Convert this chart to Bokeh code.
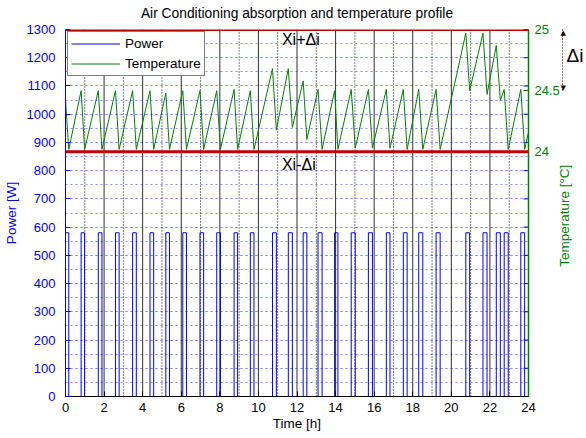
import math
from bokeh.plotting import figure
from bokeh.models import (Range1d, LinearAxis, FixedTicker, SingleIntervalTicker, Span,
                          Label, CustomJSTickFormatter)
from bokeh.embed import file_html
from bokeh.resources import INLINE

# ---------------- data ----------------
title_text = "Air Conditioning absorption and temperature profile"

# AC power pulses [h]
pulse_start = [0.00, 0.81, 1.70, 2.59, 3.48, 4.38, 5.20, 6.08, 6.97, 7.84,
               8.74, 9.58, 10.73, 11.55, 12.32, 13.09, 13.95, 14.81, 15.70, 16.63,
               17.51, 18.31, 19.21, 20.75, 21.64, 22.33, 22.74, 23.60]
pulse_end = [0.17, 0.99, 1.89, 2.78, 3.67, 4.57, 5.39, 6.27, 7.16, 8.03,
             8.92, 9.77, 10.93, 11.76, 12.51, 13.30, 14.12, 15.02, 15.91, 16.82,
             17.71, 18.52, 19.42, 20.95, 21.85, 22.54, 22.95, 23.80]
pulse_power = 580  # W

# temperature profile [h], [degC]
temp_time = [0.00, 0.17, 0.81, 0.99, 1.70, 1.89, 2.59, 2.78, 3.48, 3.67,
             4.38, 4.57, 5.20, 5.39, 6.08, 6.27, 6.97, 7.16, 7.84, 8.03,
             8.74, 8.92, 9.58, 9.77, 10.73, 10.93, 11.55, 11.76, 12.32, 12.51,
             13.09, 13.30, 13.95, 14.12, 14.81, 15.02, 15.70, 15.91, 16.63, 16.82,
             17.51, 17.71, 18.31, 18.52, 19.21, 19.42, 20.75, 20.95, 21.64, 21.85,
             22.33, 22.54, 22.74, 22.95, 23.60, 23.80, 24.00]
temp_value = [24.42, 24.02, 24.50, 24.02, 24.50, 24.02, 24.50, 24.02, 24.50, 24.02,
              24.50, 24.02, 24.48, 24.02, 24.50, 24.02, 24.50, 24.02, 24.50, 24.02,
              24.51, 24.02, 24.50, 24.02, 24.68, 24.18, 24.68, 24.20, 24.58, 24.10,
              24.51, 24.02, 24.50, 24.02, 24.51, 24.03, 24.51, 24.03, 24.51, 24.03,
              24.51, 24.02, 24.51, 24.02, 24.51, 24.02, 24.97, 24.50, 24.97, 24.47,
              24.87, 24.42, 24.51, 24.02, 24.51, 24.02, 24.16]

x_ticks = [0, 2, 4, 6, 8, 10, 12, 14, 16, 18, 20, 22, 24]
power_ticks = [0, 100, 200, 300, 400, 500, 600, 700, 800, 900, 1000, 1100, 1200, 1300]
temp_ticks = [24, 24.5, 25]
temp_axis_range = [22, 25]
band_center = 24.5
band_delta = 0.5
solid_hours = [2, 4, 6, 8, 10, 12, 14, 16, 18, 20, 22]
dotted_hours = [1, 3, 5, 7, 9, 11, 13, 15, 17, 19, 21, 23]

# ---------------- build step line ----------------
pw_x, pw_y = [x_ticks[0]], [0]
for s, e in zip(pulse_start, pulse_end):
    pw_x += [s, s, e, e]
    pw_y += [0, pulse_power, pulse_power, 0]
pw_x.append(x_ticks[-1])
pw_y.append(0)

FONT = "Liberation Sans"
BLUE = "#0000ff"
GREEN = "#008000"
RED = "#c00000"

p = figure(width=586, height=438, x_range=Range1d(x_ticks[0], x_ticks[-1]),
           y_range=Range1d(power_ticks[0], power_ticks[-1]),
           output_backend="svg", toolbar_location=None,
           min_border_left=65, min_border_right=55, min_border_top=29, min_border_bottom=42,
           background_fill_color="white", border_fill_color="white", outline_line_color=None)
p.extra_y_ranges = {"temp": Range1d(*temp_axis_range)}

# bottom (time) axis
xa = p.below[0]
xa.ticker = FixedTicker(ticks=x_ticks)
xa.axis_label = "Time [h]"
xa.axis_line_color = "#000000"
xa.major_tick_line_color = "#000000"
xa.major_tick_in = 5
xa.major_tick_out = 0
xa.minor_tick_line_color = None
xa.major_label_standoff = 6
xa.axis_label_standoff = 1
xa.major_label_text_font = FONT
xa.major_label_text_font_size = "13px"
xa.major_label_text_color = "#000000"
xa.axis_label_text_font = FONT
xa.axis_label_text_font_size = "13.5px"
xa.axis_label_text_font_style = "normal"
xa.axis_label_text_color = "#000000"

# left axis
ya = p.left[0]
ya.ticker = SingleIntervalTicker(interval=100, num_minor_ticks=2)
ya.axis_label = "Power [W]"
ya.axis_line_color = BLUE
ya.major_tick_line_color = BLUE
ya.major_tick_in = 5
ya.major_tick_out = 0
ya.minor_tick_line_color = None
ya.major_label_standoff = 6
ya.axis_label_standoff = 5
ya.major_label_text_font = FONT
ya.major_label_text_font_size = "13px"
ya.major_label_text_color = BLUE
ya.axis_label_text_font = FONT
ya.axis_label_text_font_size = "13.5px"
ya.axis_label_text_font_style = "normal"
ya.axis_label_text_color = BLUE

# title (drawn as the label of a bare top axis)
ta = LinearAxis(ticker=FixedTicker(ticks=[]), axis_label=title_text)
ta.axis_line_color = None
ta.major_tick_line_color = None
ta.minor_tick_line_color = None
ta.major_tick_in = 0
ta.major_tick_out = 0
ta.major_label_standoff = 0
ta.major_label_text_font_size = "0px"
ta.axis_label_standoff = 9
ta.axis_label_text_font = FONT
ta.axis_label_text_font_size = "13.8px"
ta.axis_label_text_font_style = "normal"
ta.axis_label_text_color = "#000000"
p.add_layout(ta, "above")

# right axis A: green temperature ticks
ra = LinearAxis(y_range_name="temp", ticker=FixedTicker(ticks=temp_ticks),
                formatter=CustomJSTickFormatter(code="return tick.toString();"))
ra.axis_line_color = GREEN
ra.axis_line_width = 1.5
ra.major_tick_line_color = GREEN
ra.major_tick_in = 5
ra.major_tick_out = 0
ra.minor_tick_line_color = None
ra.major_label_standoff = 6
ra.major_label_text_font = FONT
ra.major_label_text_font_size = "13px"
ra.major_label_text_color = GREEN
p.add_layout(ra, "right")

# right axis B: dotted delta-i span and its "Δi" text
rb = LinearAxis(y_range_name="temp", ticker=FixedTicker(ticks=[24.79]),
                formatter=CustomJSTickFormatter(code="return 'Δi';"),
                bounds=(band_center, band_center + band_delta))
rb.axis_line_color = "#000000"
rb.axis_line_width = 1
rb.axis_line_dash = "1 2"
rb.major_tick_line_color = None
rb.major_tick_in = 0
rb.major_tick_out = 0
rb.minor_tick_line_color = None
rb.major_label_standoff = 4
rb.major_label_text_font = FONT
rb.major_label_text_font_size = "19px"
rb.major_label_text_color = "#000000"
p.add_layout(rb, "right")

# right axis D: temperature axis title, written as a rotated tick label
# (tick placed where the text starts, so the text is centred on the frame)
rd = LinearAxis(y_range_name="temp", ticker=FixedTicker(ticks=[23.06]),
                formatter=CustomJSTickFormatter(code="return 'Temperature [°C]';"))
rd.axis_line_color = None
rd.major_tick_line_color = None
rd.major_tick_in = 0
rd.major_tick_out = 0
rd.minor_tick_line_color = None
rd.major_label_standoff = -22
rd.major_label_orientation = math.pi / 2
rd.major_label_text_font = FONT
rd.major_label_text_font_size = "13.5px"
rd.major_label_text_color = GREEN
p.add_layout(rd, "right")

# right axis C: arrow heads of the delta-i span
rc = LinearAxis(y_range_name="temp", ticker=FixedTicker(ticks=[24.52, 24.975]),
                formatter=CustomJSTickFormatter(code="return tick > 24.75 ? '▲' : '▼';"))
rc.axis_line_color = None
rc.major_tick_line_color = None
rc.major_tick_in = 0
rc.major_tick_out = 0
rc.minor_tick_line_color = None
rc.major_label_standoff = -26
rc.major_label_text_font = "DejaVu Sans"
rc.major_label_text_font_size = "7px"
rc.major_label_text_color = "#000000"
p.add_layout(rc, "right")

# grid
p.xgrid.grid_line_color = None
p.ygrid.grid_line_color = "#8a8aff"
p.ygrid.grid_line_dash = "2 3"
p.ygrid.minor_grid_line_color = "#8a8aff"
p.ygrid.minor_grid_line_dash = "2 3"

# hour lines
for h in solid_hours:
    p.add_layout(Span(location=h, dimension="height", line_color="#303030",
                      line_width=1, level="underlay"))
for h in dotted_hours:
    p.add_layout(Span(location=h, dimension="height", line_color="#000000",
                      line_width=1, line_dash="1 2", level="underlay"))

# mirrored blue ticks on right edge
p.scatter(x=[x_ticks[-1]] * len(power_ticks), y=power_ticks, marker="dash",
          size=10, line_color=BLUE, line_width=1)

# data
p.line(pw_x, pw_y, line_color=BLUE, line_width=1, legend_label="Power")
p.line(temp_time, temp_value, y_range_name="temp", line_color=GREEN, line_width=1,
       legend_label="Temperature")

# band limits
for lvl in (band_center + band_delta, band_center - band_delta):
    p.add_layout(Span(location=lvl, dimension="width", y_range_name="temp",
                      line_color=RED, line_width=3))

p.add_layout(Label(x=11.22, y=band_center + band_delta, y_range_name="temp", text="Xi+Δi",
                   text_font=FONT, text_font_size="16px", text_color="#000000",
                   text_baseline="top", y_offset=-1))
p.add_layout(Label(x=11.22, y=band_center - band_delta, y_range_name="temp", text="Xi-Δi",
                   text_font=FONT, text_font_size="16px", text_color="#000000",
                   text_baseline="top", y_offset=-4))

# legend
lg = p.legend[0]
lg.location = "top_left"
lg.margin = 2
lg.padding = 3
lg.spacing = 3
lg.label_height = 17
lg.glyph_height = 17
lg.glyph_width = 49
lg.label_standoff = 5
lg.border_line_color = "#000000"
lg.border_line_width = 1
lg.background_fill_color = "white"
lg.background_fill_alpha = 1
lg.label_text_font = FONT
lg.label_text_font_size = "13.5px"
lg.label_text_color = "#000000"

open("out.html", "w").write(file_html(p, INLINE))
